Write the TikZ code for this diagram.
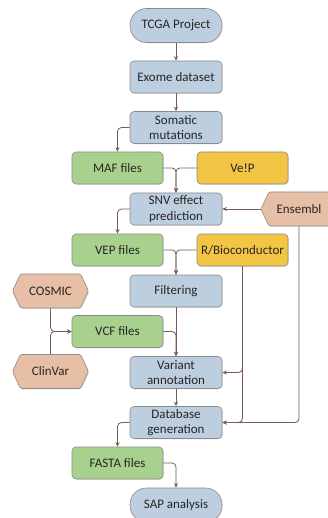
\documentclass[tikz,border=0pt]{standalone}
\usepackage{fontspec}
\setmainfont{Carlito}
\usetikzlibrary{arrows.meta,shapes.symbols,shadows}
\definecolor{bluefill}{HTML}{BDCEDF}
\definecolor{greenfill}{HTML}{A9D18E}
\definecolor{yellowfill}{HTML}{F2C545}
\definecolor{salmonfill}{HTML}{E7BFA7}
\definecolor{boxline}{HTML}{8A8A8A}
\definecolor{arrowc}{HTML}{7A5B51}
\definecolor{textc}{HTML}{262626}
\begin{document}
\begin{tikzpicture}[x=1pt,y=-1pt,
  font=\fontsize{13}{15.5}\selectfont,
  box/.style={draw=boxline, line width=0.6pt, rounded corners=4pt,
    minimum width=92pt, minimum height=32pt, inner sep=0pt, align=center,
    text=textc, drop shadow={opacity=0.2, shadow xshift=0.8pt, shadow yshift=-0.8pt}},
  proc/.style={box, fill=bluefill},
  datafile/.style={box, fill=greenfill, minimum width=91pt},
  toolbox/.style={box, fill=yellowfill, minimum width=91pt},
  term/.style={box, fill=bluefill, rounded corners=16.5pt, minimum height=34pt},
  extsrc/.style={signal, signal to=west and east, signal pointer angle=130,
    fill=salmonfill, draw=boxline, line width=0.6pt, rounded corners=1.5pt,
    minimum width=76pt, minimum height=34pt, inner sep=0pt, text=textc,
    drop shadow={opacity=0.2, shadow xshift=0.8pt, shadow yshift=-0.8pt}},
  link/.style={draw=arrowc, line width=0.8pt, rounded corners=4pt,
    -{Stealth[length=4.5pt,width=4pt]}}]
\useasboundingbox (0,0) rectangle (328,518);
\fill[white] (0,0) rectangle (328,518);

\node[term] (tcga) at (176,25.5) {TCGA Project};
\node[proc] (exome) at (176,77) {Exome dataset};
\node[proc] (somatic) at (176,127.5) {Somatic\\mutations};
\node[datafile] (maf) at (117.5,168) {MAF files};
\node[toolbox] (vep) at (242.5,168) {Ve!P};
\node[proc] (snv) at (176,209) {SNV effect\\prediction};
\node[extsrc] (ens) at (299,209) {Ensembl};
\node[datafile] (vepf) at (117.5,250) {VEP files};
\node[toolbox] (rb) at (242.5,250) {R/Bioconductor};
\node[proc] (filt) at (176,291) {Filtering};
\node[extsrc] (cosmic) at (50.5,291) {COSMIC};
\node[datafile] (vcf) at (117.5,331.5) {VCF files};
\node[extsrc] (clinvar) at (50.5,371.5) {ClinVar};
\node[proc] (va) at (176,372.5) {Variant\\annotation};
\node[proc] (db) at (176,422.5) {Database\\generation};
\node[datafile] (fasta) at (117.5,463) {FASTA files};
\node[term] (sap) at (176,505) {SAP analysis};

\draw[link] (tcga) -- (exome);
\draw[link] (exome) -- (somatic);
\draw[link] (somatic.west) -| (maf.north);
\draw[link] (maf.east) -| (snv.north);
\draw[link] (vep.west) -| (snv.north);
\draw[link] (ens.west) -- (snv.east);
\draw[link] (snv.west) -| (vepf.north);
\draw[link] (vepf.east) -| (filt.north);
\draw[link] (rb.west) -| (filt.north);
\draw[link] (cosmic.south) |- (vcf.west);
\draw[link] (clinvar.north) |- (vcf.west);
\draw[link] (filt.south) -- (va.north);
\draw[link] (vcf.east) -| (va.north);
\draw[link] (rb.south) |- (va.east);
\draw[link] (rb.south) |- (db.east);
\draw[link] (ens.south) |- (db.east);
\draw[link] (va) -- (db);
\draw[link] (db.west) -| (fasta.north);
\draw[link] (fasta.east) -| (sap.north);
\end{tikzpicture}
\end{document}
